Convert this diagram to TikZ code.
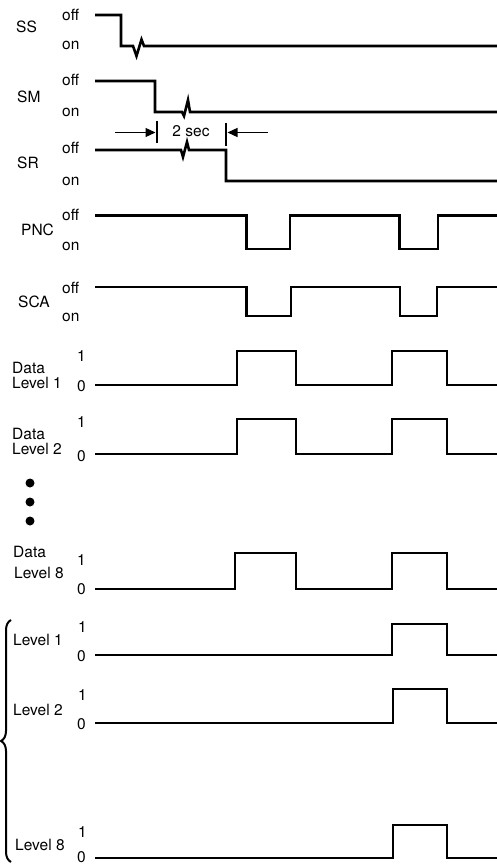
\documentclass[tikz,border=0pt]{standalone}
\usepackage{fontspec}
\setmainfont{TeX Gyre Heros}
\usetikzlibrary{arrows.meta,calc,positioning,decorations.pathreplacing}

\tikzset{
  wave/.style={line width=2.6pt, line join=miter},
  lbl/.style={font=\fontsize{15.5}{17}\selectfont, inner sep=0pt, anchor=west},
  tick/.style={line width=1.4pt},
  dimarrow/.style={line width=1.2pt, -{Triangle[length=10pt,width=9pt]}},
}

\begin{document}
\begin{tikzpicture}[x=1pt,y=-1pt]
  \useasboundingbox (0,0) rectangle (497,866);

  % switch lines
  \coordinate (ss) at (95,15);
  \node[lbl] (n1) at (16,27) {SS};
  \node[lbl] (l1) at ($(ss)+(-33,0)$) {off};
  \node[lbl] (l2) at ($(ss)+(-33,30)$) {on};
  \draw[wave] (ss) -- (121,15) -- (121,46) -- (133,46)
    -- ++(3.5,10) -- ++(5,-16.5) -- ++(2.5,6.5) -- (497,46);

  \coordinate (sm) at (95,81);
  \node[lbl] (n2) at (17,97) {SM};
  \node[lbl] (l3) at ($(sm)+(-33,-1)$) {off};
  \node[lbl] (l4) at ($(sm)+(-33,31)$) {on};
  \draw[wave] (sm) -- (155,81) -- (155,112) -- (182,112)
    -- ++(2,4) -- ++(4,-16) -- ++(2,12) -- (497,112);

  \coordinate (sr) at (95,150);
  \node[lbl] (n3) at (17,163) {SR};
  \node[lbl] (l5) at ($(sr)+(-33,-2)$) {off};
  \node[lbl] (l6) at ($(sr)+(-33,31)$) {on};
  \draw[wave] (sr) -- (181,150) -- ++(2,7) -- ++(4,-15) -- ++(2,8)
    -- (226,150) -- (226,181) -- (497,181);

  % 2 sec interval
  \coordinate (t1) at (157,121);
  \coordinate (t2) at (226,123);
  \draw[tick] (t1) -- ++(0,22);
  \draw[tick] (t2) -- ++(0,23);
  \coordinate (w1) at (115,132.5);
  \coordinate (w2) at (268,132.5);
  \draw[dimarrow] (w1) -- ($(t1|-w1)+(-1.5,0)$);
  \draw[dimarrow] (w2) -- ($(t2|-w2)+(1.5,0)$);
  \node[lbl, anchor=center] (sec) at (191,131) {2 sec};

  % PNC and SCA
  \coordinate (pnc) at (95,215.5);
  \node[lbl] (n4) at (21,230) {PNC};
  \node[lbl] (l7) at ($(pnc)+(-33,-1)$) {off};
  \node[lbl] (l8) at ($(pnc)+(-33,31)$) {on};
  \draw[wave] (pnc) -- (246.5,215.5) -- (246.5,249) -- (290,249) -- (290,215.5)
    -- (399.5,215.5) -- (399.5,249) -- (438,249) -- (438,215.5) -- (497,215.5);

  \coordinate (sca) at (95,287);
  \node[lbl] (n5) at (18,302) {SCA};
  \node[lbl] (l9) at ($(sca)+(-33,1)$) {off};
  \node[lbl] (l10) at ($(sca)+(-33,30)$) {on};
  \draw[wave] (sca) -- (246.5,287) -- (246.5,316) -- (291,316) -- (291,287)
    -- (400,287) -- (400,316) -- (437,316) -- (437,287) -- (497,287);

  % data levels
  \coordinate (d1) at (95,385);
  \node[lbl] (n6) at (12,368) {Data};
  \node[lbl] (n7) at ($(n6.west)+(0,14.5)$) {Level 1};
  \node[lbl] (b1) at ($(d1)+(-18,-29)$) {1};
  \node[lbl] (b2) at ($(d1)+(-18,1)$) {0};
  \draw[wave] (d1) -- (237,385) -- (237,351) -- (296,351) -- (296,385)
    -- (392,385) -- (392,351) -- (447,351) -- (447,385) -- (497,385);

  \coordinate (d2) at (95,454);
  \node[lbl] (n8) at (12,434) {Data};
  \node[lbl] (n9) at ($(n8.west)+(0,14.5)$) {Level 2};
  \node[lbl] (b3) at ($(d2)+(-18,-32)$) {1};
  \node[lbl] (b4) at ($(d2)+(-18,2)$) {0};
  \draw[wave] (d2) -- (237,454) -- (237,419) -- (296,419) -- (296,454)
    -- (392,454) -- (392,419) -- (447,419) -- (447,454) -- (497,454);

  \fill (30,483) circle (4.5pt) (30,502) circle (4.5pt) (30,521) circle (4.5pt);

  \coordinate (d8) at (95,589);
  \node[lbl] (n10) at (13,552) {Data};
  \node[lbl] (n11) at (14,573) {Level 8};
  \node[lbl] (b5) at ($(d8)+(-18,-29)$) {1};
  \node[lbl] (b6) at ($(d8)+(-18,0)$) {0};
  \draw[wave] (d8) -- (235,589) -- (235,553) -- (296,553) -- (296,589)
    -- (392,589) -- (392,553) -- (447,553) -- (447,589) -- (497,589);

  % bracketed levels
  \coordinate (e1) at (95,655);
  \node[lbl] (n12) at (13,640) {Level 1};
  \node[lbl] (b7) at ($(e1)+(-17,-28)$) {1};
  \node[lbl] (b8) at ($(e1)+(-18,1)$) {0};
  \draw[wave] (e1) -- (392,655) -- (392,624) -- (447,624) -- (447,655) -- (497,655);

  \coordinate (e2) at (95,723);
  \node[lbl] (n13) at (13,710) {Level 2};
  \node[lbl] (b9) at ($(e2)+(-17,-28)$) {1};
  \node[lbl] (b10) at ($(e2)+(-18,1)$) {0};
  \draw[wave] (e2) -- (393,723) -- (393,689) -- (447,689) -- (447,723) -- (497,723);

  \coordinate (e8) at (95,858);
  \node[lbl] (n14) at (15,845) {Level 8};
  \node[lbl] (b11) at ($(e8)+(-17,-26)$) {1};
  \node[lbl] (b12) at ($(e8)+(-18,-1)$) {0};
  \draw[wave] (e8) -- (393,858) -- (393,825) -- (447,825) -- (447,858) -- (497,858);

  \draw[line width=2pt, decorate, decoration={brace, amplitude=10pt}]
    (11,862) -- (11,620);
\end{tikzpicture}
\end{document}
